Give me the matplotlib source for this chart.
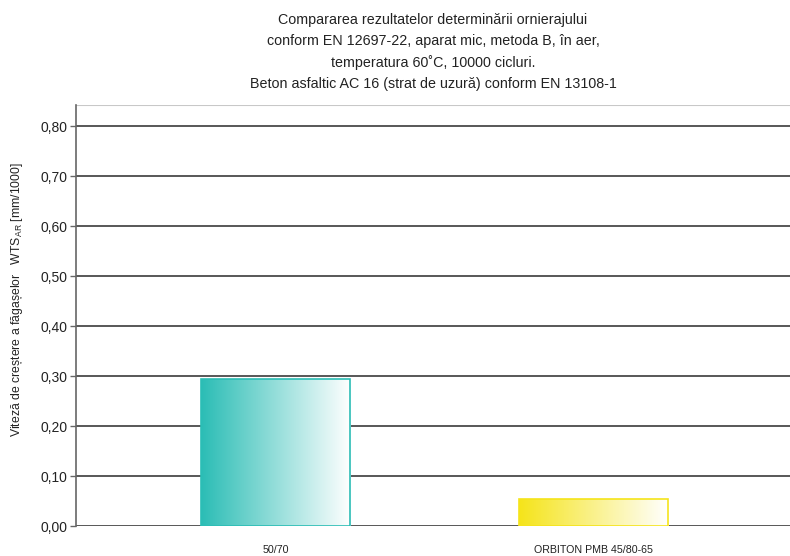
import numpy as np
import matplotlib
matplotlib.use("Agg")
import matplotlib.pyplot as plt
from matplotlib.colors import LinearSegmentedColormap

plt.rcParams['font.family'] = ['Liberation Sans', 'DejaVu Sans']

categories = ["50/70", "ORBITON PMB 45/80-65"]
values = [0.295, 0.055]
bar_colors = ["#2bbdb5", "#f5e41a"]
yticks = [0.0, 0.1, 0.2, 0.3, 0.4, 0.5, 0.6, 0.7, 0.8]
ytick_labels = ["0,00", "0,10", "0,20", "0,30", "0,40", "0,50", "0,60", "0,70", "0,80"]

title = ("Compararea rezultatelor determinării ornierajului\n"
         "conform EN 12697-22, aparat mic, metoda B, în aer,\n"
         "temperatura 60˚C, 10000 cicluri.\n"
         "Beton asfaltic AC 16 (strat de uzură) conform EN 13108-1")

fig = plt.figure(figsize=(7.9, 5.56), dpi=100)
ax = fig.add_axes([76 / 790, 30 / 556, 714 / 790, 421 / 556])

x = np.arange(len(categories))
width = 0.47

ax.set_xlim(-0.63, 1.62)
ax.set_ylim(0, 0.842)

# horizontal grid
for t in yticks:
    ax.axhline(t, color="#4a4a4a", lw=1.3, zorder=1)
ax.axhline(0.842, color="#c8c8c8", lw=1.5, zorder=1)

bars = ax.bar(x, values, width=width, color="none", zorder=3)
grad = np.linspace(0, 1, 256).reshape(1, -1)
for b, c in zip(bars, bar_colors):
    cmap = LinearSegmentedColormap.from_list("g", [c, "#ffffff"])
    x0, y0 = b.get_x(), b.get_y()
    w, h = b.get_width(), b.get_height()
    im = ax.imshow(grad, cmap=cmap, extent=(x0, x0 + w, y0, y0 + h),
                   aspect="auto", zorder=2, interpolation="bilinear")
    im.set_clip_path(b)
    ax.add_patch(plt.Rectangle((x0, y0), w, h, fill=False, edgecolor=c,
                               lw=1.2, zorder=4))

ax.set_xlim(-0.63, 1.62)
ax.set_ylim(0, 0.842)

for s in ["top", "right", "bottom"]:
    ax.spines[s].set_visible(False)
ax.spines["left"].set_color("#666666")
ax.spines["left"].set_linewidth(1.2)

ax.set_yticks(yticks)
ax.set_yticklabels(ytick_labels, fontsize=10, color="#222222")
ax.tick_params(axis="y", length=4, width=1, color="#666666", pad=2)
ax.set_xticks(x)
ax.set_xticklabels(categories, fontsize=7.7, color="#222222")
ax.tick_params(axis="x", length=0, pad=14)

fig.text(433 / 790, 1 - 52 / 556, title, ha="center", va="center",
         fontsize=10.3, linespacing=1.62, color="#222222")

fig.text(17 / 790, 1 - 300 / 556,
         "Viteză de creștere a făgașelor   WTS$_{\\mathregular{AR}}$ [mm/1000]",
         rotation=90, ha="center", va="center", fontsize=8.8, color="#222222")

fig.savefig("out.png", dpi=100)
